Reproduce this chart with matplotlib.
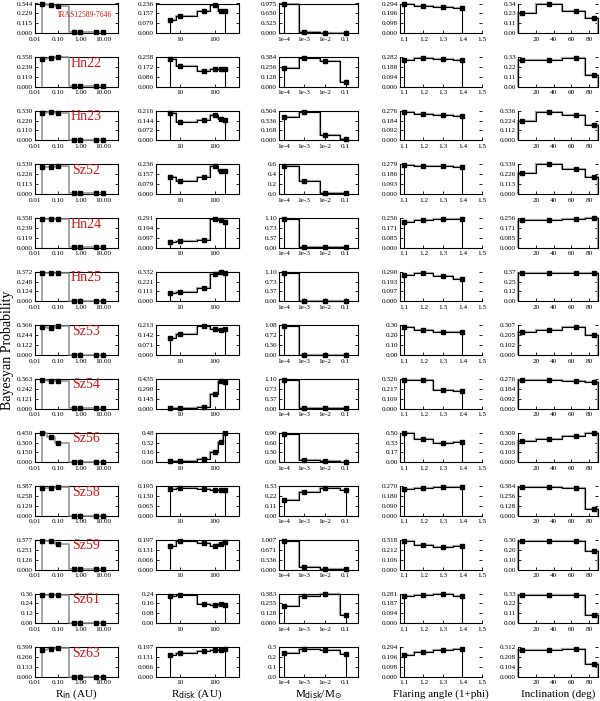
import matplotlib
matplotlib.use('Agg')
import matplotlib.pyplot as plt

# ---------------- data ----------------
names = ['IRAS12589-7646', 'Hn22', 'Hn23', 'Sz52', 'Hn24', 'Hn25', 'Sz53',
         'Sz54', 'Sz56', 'Sz58', 'Sz59', 'Sz61', 'Sz63']

rin_grid = [0.02, 0.05, 0.1, 0.5, 1.0, 5.0, 10.0]
rdisk_grid = [5, 10, 50, 100, 150, 200]
mdisk_grid = [1e-4, 1e-3, 1e-2, 0.1]
flare_grid = [1.1, 1.2, 1.3, 1.4]
incl_centers = [5, 35, 65, 85]
incl_edges = [0, 20, 50, 75, 90]

# probabilities, one list per object
p_rin = [
    [0.344, 0.323, 0.320, 0.010, 0.010, 0.010, 0.010],
    [0.340, 0.351, 0.358, 0.004, 0.004, 0.004, 0.004],
    [0.304, 0.314, 0.304, 0.004, 0.004, 0.004, 0.004],
    [0.312, 0.312, 0.322, 0.007, 0.007, 0.007, 0.007],
    [0.347, 0.347, 0.347, 0.004, 0.004, 0.004, 0.004],
    [0.357, 0.361, 0.361, 0.004, 0.004, 0.004, 0.004],
    [0.348, 0.329, 0.355, 0.003, 0.003, 0.003, 0.003],
    [0.352, 0.345, 0.345, 0.004, 0.004, 0.004, 0.004],
    [0.441, 0.378, 0.297, 0.005, 0.005, 0.005, 0.005],
    [0.368, 0.368, 0.379, 0.002, 0.002, 0.002, 0.002],
    [0.366, 0.366, 0.324, 0.004, 0.004, 0.004, 0.004],
    [0.349, 0.349, 0.349, 0.004, 0.004, 0.004, 0.004],
    [0.367, 0.379, 0.387, 0.004, 0.004, 0.004, 0.004],
]
p_rdisk = [
    [0.106, 0.137, 0.175, 0.224, 0.179, 0.179],
    [0.243, 0.178, 0.139, 0.150, 0.157, 0.155],
    [0.201, 0.134, 0.147, 0.184, 0.153, 0.151],
    [0.139, 0.106, 0.137, 0.224, 0.186, 0.182],
    [0.052, 0.064, 0.073, 0.285, 0.271, 0.256],
    [0.093, 0.106, 0.149, 0.305, 0.332, 0.319],
    [0.121, 0.153, 0.207, 0.190, 0.179, 0.190],
    [0.004, 0.004, 0.022, 0.218, 0.413, 0.392],
    [0.014, 0.014, 0.048, 0.158, 0.336, 0.470],
    [0.176, 0.187, 0.179, 0.174, 0.170, 0.170],
    [0.158, 0.191, 0.179, 0.158, 0.171, 0.185],
    [0.221, 0.233, 0.154, 0.149, 0.156, 0.144],
    [0.148, 0.158, 0.175, 0.179, 0.181, 0.187],
]
p_mdisk = [
    [0.950, 0.030, 0.010, 0.010],
    [0.242, 0.372, 0.330, 0.061],
    [0.393, 0.479, 0.091, 0.015],
    [0.560, 0.270, 0.018, 0.012],
    [1.070, 0.010, 0.010, 0.010],
    [1.070, 0.010, 0.010, 0.010],
    [1.050, 0.010, 0.010, 0.010],
    [1.070, 0.010, 0.010, 0.010],
    [0.855, 0.054, 0.027, 0.009],
    [0.182, 0.264, 0.310, 0.290],
    [0.977, 0.081, 0.020, 0.010],
    [0.222, 0.352, 0.372, 0.107],
    [0.240, 0.285, 0.276, 0.228],
]
p_flare = [
    [0.294, 0.268, 0.262, 0.250],
    [0.257, 0.274, 0.262, 0.257],
    [0.262, 0.246, 0.240, 0.226],
    [0.271, 0.268, 0.262, 0.257],
    [0.223, 0.236, 0.246, 0.251],
    [0.255, 0.275, 0.247, 0.218],
    [0.285, 0.252, 0.234, 0.228],
    [0.313, 0.313, 0.205, 0.192],
    [0.490, 0.390, 0.330, 0.350],
    [0.243, 0.254, 0.262, 0.262],
    [0.312, 0.261, 0.239, 0.251],
    [0.259, 0.267, 0.275, 0.259],
    [0.221, 0.250, 0.265, 0.279],
]
p_incl = [
    [0.231, 0.340, 0.258, 0.170],
    [0.294, 0.294, 0.320, 0.125],
    [0.225, 0.326, 0.292, 0.171],
    [0.237, 0.339, 0.288, 0.200],
    [0.238, 0.243, 0.248, 0.253],
    [0.355, 0.355, 0.355, 0.355],
    [0.239, 0.264, 0.292, 0.209],
    [0.265, 0.265, 0.257, 0.246],
    [0.226, 0.241, 0.275, 0.303],
    [0.372, 0.372, 0.361, 0.092],
    [0.291, 0.288, 0.294, 0.186],
    [0.320, 0.320, 0.314, 0.096],
    [0.287, 0.287, 0.296, 0.140],
]

# top y-tick label of every panel (columns: Rin, Rdisk, Mdisk, flaring, incl)
ytop = [
    ['0.344', '0.236', '0.975', '0.294', '0.34'],
    ['0.358', '0.258', '0.384', '0.282', '0.33'],
    ['0.330', '0.216', '0.504', '0.276', '0.336'],
    ['0.339', '0.236', '0.6', '0.279', '0.339'],
    ['0.358', '0.291', '1.10', '0.256', '0.256'],
    ['0.372', '0.332', '1.10', '0.290', '0.37'],
    ['0.366', '0.213', '1.08', '0.30', '0.307'],
    ['0.363', '0.435', '1.10', '0.326', '0.276'],
    ['0.450', '0.48', '0.90', '0.50', '0.309'],
    ['0.387', '0.195', '0.33', '0.270', '0.384'],
    ['0.377', '0.197', '1.007', '0.318', '0.30'],
    ['0.36', '0.24', '0.383', '0.281', '0.33'],
    ['0.399', '0.197', '0.3', '0.294', '0.312'],
]

xticks = [[0.01, 0.1, 1, 10], [10, 100], [1e-4, 1e-3, 1e-2, 0.1],
          [1.1, 1.2, 1.3, 1.4, 1.5], [20, 40, 60, 80]]
xticklabels = [['0.01', '0.10', '1.00', '10.00'], ['10', '100'],
               ['1e-4', '1e-3', '1e-2', '0.1'],
               ['1.1', '1.2', '1.3', '1.4', '1.5'], ['20', '40', '60', '80']]
xlabels = [r'R$_{\rm in}$ (AU)', r'R$_{\rm disk}$ (AU)',
           r'M$_{\rm disk}$/M$_{\odot}$', 'Flaring angle (1+phi)',
           'Inclination (deg)']

# ---------------- layout ----------------
W, H = 600, 701
fig = plt.figure(figsize=(W / 100, H / 100), dpi=100)
col_left = [35, 156, 279, 400, 518]
col_w = [83, 83, 79, 82, 80]
xlims = [(0.01, 45), (2, 500), (6e-5, 0.4), (1.08, 1.5), (0, 90)]
xscale = ['log', 'log', 'log', 'linear', 'linear']
row_top0, row_pitch, row_h = 3.5, 53.65, 29.5
serif = 'Liberation Serif'
red = '#d0161b'

grids = [rin_grid, rdisk_grid, mdisk_grid, flare_grid, incl_centers]
datas = [p_rin, p_rdisk, p_mdisk, p_flare, p_incl]

for r, name in enumerate(names):
    top = row_top0 + r * row_pitch
    for c in range(5):
        ax = fig.add_axes([col_left[c] / W, 1 - (top + row_h) / H,
                           col_w[c] / W, row_h / H])
        ax.set_xscale(xscale[c])
        ax.set_xlim(*xlims[c])
        ts = ytop[r][c]
        yt = float(ts)
        nd = len(ts.split('.')[1])
        ax.set_ylim(0, yt)
        yv = [yt * k / 3 for k in range(4)]
        ax.set_yticks(yv)
        ax.set_yticklabels([f'{v:.{nd}f}' for v in yv])
        ax.set_xticks(xticks[c])
        ax.set_xticklabels(xticklabels[c])
        ax.minorticks_off()
        ax.tick_params(axis='both', direction='in', length=2.2, width=0.6,
                       labelsize=5.2, pad=1.5)
        ax.tick_params(axis='x', pad=2.6)
        ax.tick_params(axis='y', right=True)
        for lab in ax.get_xticklabels() + ax.get_yticklabels():
            lab.set_family(serif)
        for s in ax.spines.values():
            s.set_linewidth(0.8)
        if c >= 3:
            ax.spines['top'].set_visible(False)
            ax.spines['right'].set_visible(False)

        x = grids[c]
        y = datas[c][r]
        if c == 4:
            ax.stairs(y, incl_edges, baseline=0, color='0.65', lw=1.6,
                      zorder=2, clip_on=False)
            ax.stairs(y, incl_edges, baseline=0, color='k', lw=0.8,
                      zorder=3, clip_on=False)
        else:
            lc = '0.55' if c == 0 else 'k'
            lw = 1.1 if c == 0 else 0.8
            if c != 0:
                ax.plot(x, y, drawstyle='steps-mid', color='0.65', lw=1.6,
                        zorder=2, clip_on=False)
            ax.plot(x, y, drawstyle='steps-mid', color=lc, lw=lw, zorder=3,
                    clip_on=False)
            ax.vlines([x[0], x[-1]], 0, [y[0], y[-1]], color=lc, lw=lw,
                      zorder=3, clip_on=False)
        ax.plot(x, y, ls='none', marker='s', ms=3.2, color='k', zorder=4,
                clip_on=False)

        if c == 0:
            if r == 0:
                ax.text(0.6, 0.6, name, transform=ax.transAxes, color=red,
                        fontsize=5.5, family=serif, ha='center', va='center')
            else:
                ax.text(0.62, 0.8, name, transform=ax.transAxes, color=red,
                        fontsize=10, family=serif, ha='center', va='center')

col_centre = [76, 197, 318, 441, 558]
for c in range(5):
    fig.text(col_centre[c] / W, 1 - 694.5 / H, xlabels[c], ha='center',
             va='center', fontsize=8, family=serif)
fig.text(8 / W, 0.5, 'Bayesyan Probability', rotation=90, ha='center',
         va='center', fontsize=10, family=serif)

fig.savefig('out.png', dpi=100)
